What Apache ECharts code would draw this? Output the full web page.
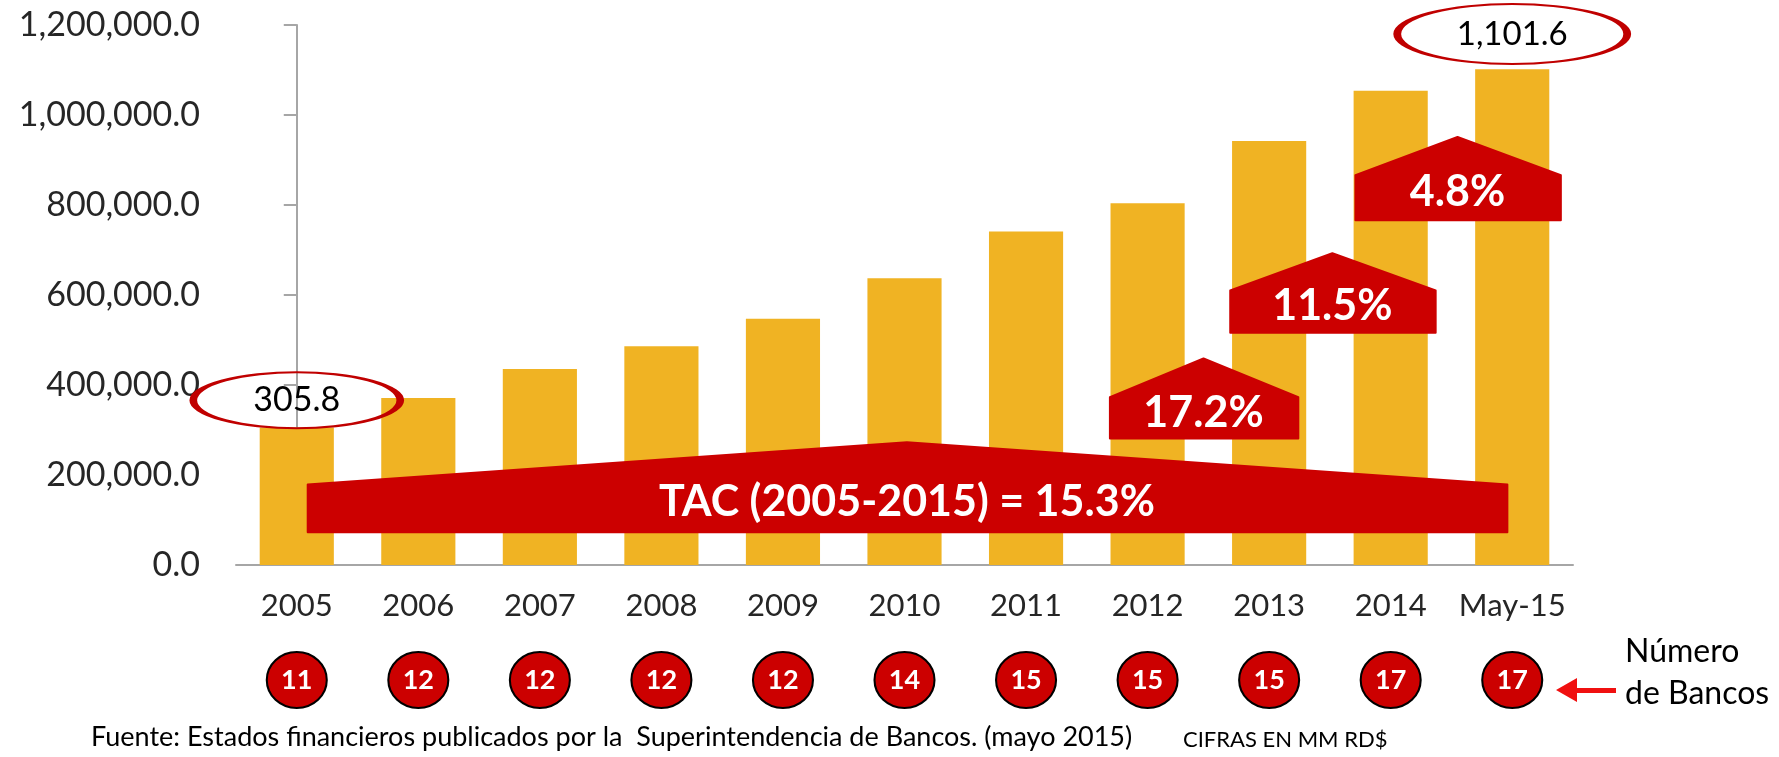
<!DOCTYPE html>
<html>
<head>
<meta charset="utf-8">
<script src="https://cdn.jsdelivr.net/npm/echarts@6/dist/echarts.min.js"></script>
<style>
    html, body { margin: 0; padding: 0; background: #fff; }
    #activos { width: 1779px; height: 757px; }
</style>
</head>
<body>
<div id="activos"></div>
<script>
// datos (millones RD$)
var categories = ['2005', '2006', '2007', '2008', '2009', '2010', '2011', '2012', '2013', '2014', 'May-15'];
var totals = [305800, 371000, 435600, 486000, 547000, 637000, 741000, 804000, 942000, 1054000, 1101600];
var banks = [11, 12, 12, 12, 12, 14, 15, 15, 15, 17, 17];
var growthLabels = ['TAC (2005-2015) = 15.3%', '17.2%', '11.5%', '4.8%'];
var yMax = 1200000;
var yStep = 200000;

// flechas: x en indice de categoria, y en valor del eje
var arrowShapes = [
    {x0: 0.09, x1: 9.96, xa: 5.02, y0: 73000, y1: 179000, y2: 273000, size: 43},
    {x0: 6.69, x1: 8.24, xa: 7.46, y0: 281000, y1: 373000, y2: 459000, size: 43},
    {x0: 7.68, x1: 9.37, xa: 8.52, y0: 516000, y1: 610000, y2: 693000, size: 43},
    {x0: 8.71, x1: 10.40, xa: 9.55, y0: 766000, y1: 866000, y2: 951000, size: 43}
];

var FONT = 'Lato, "Open Sans", sans-serif';
var RED = '#cc0000';

function fmt1(v) {
    return v.toLocaleString('en-US', {minimumFractionDigits: 1, maximumFractionDigits: 1});
}

var myChart = echarts.init(document.getElementById('activos'));

var option = {
    animation: false,
    grid: [
        {left: 236, right: 206, top: 25, bottom: 192},
        {left: 236, right: 206, top: 650, height: 60}
    ],
    xAxis: [
        {
            type: 'category',
            gridIndex: 0,
            data: categories,
            axisLine: {lineStyle: {color: '#a6a6a6', width: 2}},
            axisTick: {length: 11, lineStyle: {color: '#a6a6a6', width: 2}},
            axisLabel: {interval: 0, color: '#262626', fontSize: 31, fontFamily: FONT, margin: 25}
        },
        {
            // eje auxiliar para las flechas
            type: 'value',
            gridIndex: 0,
            min: -0.5,
            max: categories.length - 0.5,
            show: false
        },
        {
            type: 'category',
            gridIndex: 1,
            data: categories,
            show: false
        }
    ],
    yAxis: [
        {
            type: 'value',
            gridIndex: 0,
            min: 0,
            max: yMax,
            interval: yStep,
            splitLine: {show: false},
            axisLine: {show: true, lineStyle: {color: '#a6a6a6', width: 2}},
            axisTick: {show: true, length: 13, lineStyle: {color: '#a6a6a6', width: 2}},
            axisLabel: {
                color: '#262626',
                fontSize: 34,
                fontFamily: FONT,
                margin: 36,
                formatter: function (v) { return fmt1(v); }
            }
        },
        {
            type: 'value',
            gridIndex: 1,
            min: 0,
            max: 1,
            show: false
        }
    ],
    series: [
        {
            name: 'Activos',
            type: 'bar',
            xAxisIndex: 0,
            yAxisIndex: 0,
            barWidth: '61%',
            data: totals,
            itemStyle: {color: '#f0b323'},
            markPoint: {
                symbol: 'circle',
                itemStyle: {color: 'rgba(255,255,255,0)', borderColor: '#c00000', borderWidth: 4},
                label: {
                    show: true,
                    position: 'inside',
                    color: '#000',
                    fontFamily: FONT,
                    formatter: function (p) { return fmt1(p.value / 1000); }
                },
                data: [
                    {coord: [0, 366000], value: totals[0], symbolSize: [207, 56], label: {fontSize: 34}},
                    {coord: [10, 1180000], value: totals[10], symbolSize: [230, 60], label: {fontSize: 33}}
                ]
            }
        },
        {
            name: 'Crecimiento',
            type: 'custom',
            xAxisIndex: 1,
            yAxisIndex: 0,
            z: 5,
            data: arrowShapes.map(function (s) { return [s.xa, s.y2]; }),
            renderItem: function (params, api) {
                var s = arrowShapes[params.dataIndex];
                var pts = [
                    api.coord([s.x0, s.y0]),
                    api.coord([s.x0, s.y1]),
                    api.coord([s.xa, s.y2]),
                    api.coord([s.x1, s.y1]),
                    api.coord([s.x1, s.y0])
                ];
                var t = api.coord([s.xa, s.y0 + 0.62 * (s.y1 - s.y0)]);
                return {
                    type: 'group',
                    children: [
                        {
                            type: 'polygon',
                            shape: {points: pts},
                            style: {fill: RED, stroke: RED, lineWidth: 2, lineJoin: 'round'}
                        },
                        {
                            type: 'text',
                            x: t[0],
                            y: t[1],
                            style: {
                                text: growthLabels[params.dataIndex],
                                fill: '#fff',
                                fontSize: s.size,
                                fontWeight: 'bold',
                                fontFamily: FONT,
                                align: 'center',
                                verticalAlign: 'middle'
                            }
                        }
                    ]
                };
            }
        },
        {
            name: 'Número de Bancos',
            type: 'scatter',
            xAxisIndex: 2,
            yAxisIndex: 1,
            symbol: 'circle',
            symbolSize: [60, 56],
            data: banks.map(function (b, i) { return [i, 0.5, b]; }),
            itemStyle: {color: RED, borderColor: '#000', borderWidth: 2, opacity: 1},
            label: {
                show: true,
                position: 'inside',
                color: '#fff',
                fontSize: 27,
                fontWeight: 'bold',
                fontFamily: FONT,
                formatter: function (p) { return p.value[2]; }
            }
        }
    ],
    graphic: [
        {
            type: 'text',
            left: 1625,
            top: 631,
            style: {text: 'Número\nde Bancos', fill: '#000', fontSize: 32, fontFamily: FONT, lineHeight: 42}
        },
        {
            type: 'polygon',
            shape: {points: [[1556, 690], [1577, 678], [1577, 688], [1616, 688], [1616, 693], [1577, 693], [1577, 702]]},
            style: {fill: '#f01010'}
        },
        {
            type: 'text',
            left: 91,
            top: 724,
            style: {
                text: 'Fuente: Estados financieros publicados por la  Superintendencia de Bancos. (mayo 2015)',
                fill: '#000', fontSize: 27, fontFamily: FONT
            }
        },
        {
            type: 'text',
            left: 1183,
            top: 729,
            style: {text: 'CIFRAS EN MM RD$', fill: '#000', fontSize: 22, fontFamily: FONT}
        }
    ]
};

myChart.setOption(option);
</script>
</body>
</html>
